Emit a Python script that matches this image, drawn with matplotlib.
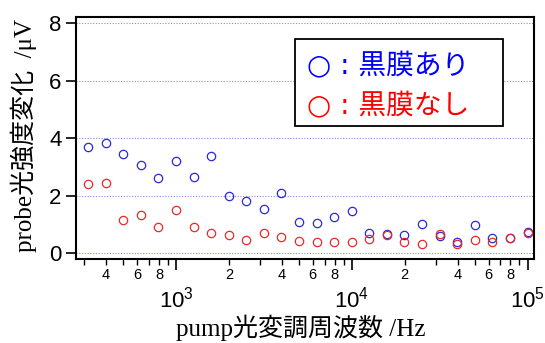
import matplotlib
matplotlib.use("Agg")
import matplotlib.pyplot as plt
from matplotlib.patches import Rectangle
from matplotlib.ticker import FixedLocator, FixedFormatter

plt.rcParams['mathtext.fontset'] = 'custom'
plt.rcParams['mathtext.rm'] = 'Liberation Sans'
plt.rcParams['mathtext.it'] = 'Liberation Sans'

# 変調周波数 (Hz)
freq = [316, 398, 501, 631, 794, 1000, 1259, 1585, 1995, 2512, 3162, 3981, 5012,
        6310, 7943, 10000, 12589, 15849, 19953, 25119, 31623, 39811, 50119,
        63096, 79433, 100000]
# 黒膜あり
with_film = [3.70, 3.84, 3.47, 3.09, 2.61, 3.20, 2.65, 3.39, 1.99, 1.82, 1.54, 2.09,
             1.08, 1.04, 1.27, 1.48, 0.69, 0.66, 0.64, 1.01, 0.61, 0.39, 0.99,
             0.52, 0.54, 0.75]
# 黒膜なし
without_film = [2.40, 2.45, 1.16, 1.32, 0.91, 1.51, 0.91, 0.69, 0.64, 0.47, 0.69,
                0.58, 0.44, 0.40, 0.39, 0.40, 0.50, 0.62, 0.38, 0.33, 0.67, 0.31,
                0.45, 0.39, 0.54, 0.69]

major_ticks = [1e3, 1e4, 1e5]
major_labels = ['$10^{3}$', '$10^{4}$', '$10^{5}$']
minor_ticks = [m * 10**e for e in (2, 3, 4) for m in range(2, 10)]
minor_labels = [str(m) if m in (2, 4, 6, 8) else '' for e in (2, 3, 4) for m in range(2, 10)]

fig = plt.figure(figsize=(5.45, 3.43), dpi=100)
ax = fig.add_axes([0.1395, 0.244, 0.8405, 0.706])

ax.plot(freq, with_film, 'o', mfc='none', mec='#2a2ad6', ms=6, mew=0.9)
ax.plot(freq, without_film, 'o', mfc='none', mec='#e52a2a', ms=6, mew=0.9)

ax.set_xscale('log')
ax.set_xlim(270, 1.09e5)
ax.set_ylim(-0.21, 8.22)

ax.set_yticks([0, 2, 4, 6, 8])
ax.grid(axis='y', color='#8a8aee', linestyle=(0, (1, 1.5)), linewidth=0.8)
ax.tick_params(axis='y', direction='out', length=7.5, width=1.2, labelsize=16, pad=3)

ax.xaxis.set_major_locator(FixedLocator(major_ticks))
ax.xaxis.set_major_formatter(FixedFormatter(major_labels))
ax.xaxis.set_minor_locator(FixedLocator(minor_ticks))
ax.xaxis.set_minor_formatter(FixedFormatter(minor_labels))
ax.tick_params(axis='x', which='major', direction='out', length=8, width=1.2,
               labelsize=16, pad=12)
ax.tick_params(axis='x', which='minor', direction='out', length=4.5, width=1.0,
               labelsize=10.5, pad=2)

for lbl in ax.get_yticklabels() + ax.get_xticklabels(which='both'):
    lbl.set_fontfamily('Liberation Sans')

for s in ax.spines.values():
    s.set_linewidth(1.5)

label_font = ['Liberation Serif', 'Noto Sans CJK JP']
fig.text(0.552, 0.02, 'pump光変調周波数 /Hz', family=label_font, fontsize=18,
         ha='center', va='baseline')
fig.text(0.044, 0.605, 'probe光強度変化  /μV', family=label_font, fontsize=18,
         ha='center', va='center', rotation=90)

# 凡例
ax.add_patch(Rectangle((0.478, 0.551), 0.454, 0.359, transform=ax.transAxes,
                       facecolor='white', edgecolor='black', lw=1.3, zorder=5))
legend_font = ['DejaVu Sans', 'Noto Sans CJK JP']
ax.text(0.505, 0.796, '○ : 黒膜あり', color='blue', fontsize=20, va='center',
        transform=ax.transAxes, family=legend_font, zorder=6)
ax.text(0.505, 0.631, '○ : 黒膜なし', color='red', fontsize=20, va='center',
        transform=ax.transAxes, family=legend_font, zorder=6)

fig.savefig('out.png', dpi=100)
